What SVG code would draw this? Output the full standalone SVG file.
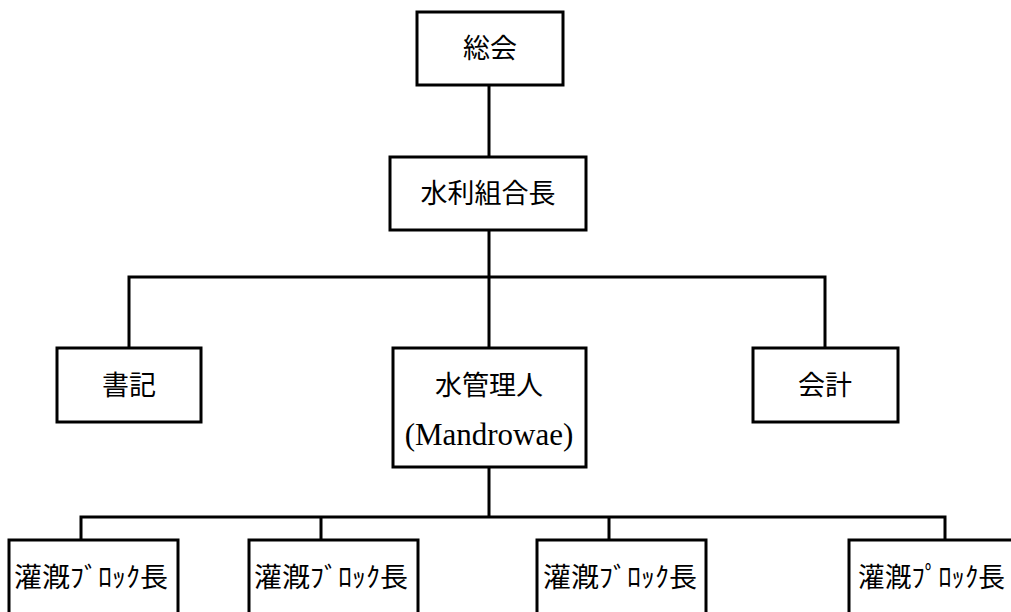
<svg xmlns="http://www.w3.org/2000/svg" width="1011" height="612" viewBox="0 0 1011 612">
<style>
.box{fill:#fff;stroke:#000;stroke-width:3}
.ln{fill:none;stroke:#000;stroke-width:3;stroke-linecap:square}
.t{font-family:"Noto Sans CJK JP","Noto Sans",sans-serif;font-size:27px;text-anchor:middle;fill:#000}
.s{font-family:"Liberation Serif",serif;font-size:31px;text-anchor:middle;fill:#000}
.b{font-family:"Noto Sans CJK JP",sans-serif;font-size:27px;fill:#000}
</style>
<rect width="1011" height="612" fill="#fff"/>
<g id="connectors">
<path class="ln" d="M489,85V157"/>
<path class="ln" d="M489,230V277M129,348V277H825V348M489,277V348"/>
<path class="ln" d="M489,467V517M81,540V517H945V540M321,517V540M609,517V540"/>
</g>
<g id="soukai"><rect class="box" x="417" y="12" width="146" height="73"/><text class="t" x="490" y="58">総会</text></g>
<g id="kumiaichou"><rect class="box" x="390" y="157" width="196" height="73"/><text class="t" x="488" y="203">水利組合長</text></g>
<g id="shoki"><rect class="box" x="57" y="348" width="144" height="74"/><text class="t" x="129" y="395">書記</text></g>
<g id="kaikei"><rect class="box" x="753" y="348" width="145" height="74"/><text class="t" x="825" y="395">会計</text></g>
<g id="mizukanrinin"><rect class="box" x="393" y="348" width="193" height="119"/><text class="t" x="489" y="395">水管理人</text><text class="s" x="489" y="445">(Mandrowae)</text></g>
<g id="block1"><rect class="box" x="9" y="540" width="169" height="90"/><text class="b" x="14" y="587" textLength="154" lengthAdjust="spacingAndGlyphs">灌漑ﾌﾞﾛｯｸ長</text></g>
<g id="block2"><rect class="box" x="249" y="540" width="169" height="90"/><text class="b" x="254" y="587" textLength="154" lengthAdjust="spacingAndGlyphs">灌漑ﾌﾞﾛｯｸ長</text></g>
<g id="block3"><rect class="box" x="537" y="540" width="169" height="90"/><text class="b" x="543" y="587" textLength="154" lengthAdjust="spacingAndGlyphs">灌漑ﾌﾞﾛｯｸ長</text></g>
<g id="block4"><rect class="box" x="849" y="540" width="169" height="90"/><text class="b" x="858" y="587" textLength="147" lengthAdjust="spacingAndGlyphs">灌漑ﾌﾟﾛｯｸ長</text></g>
</svg>
